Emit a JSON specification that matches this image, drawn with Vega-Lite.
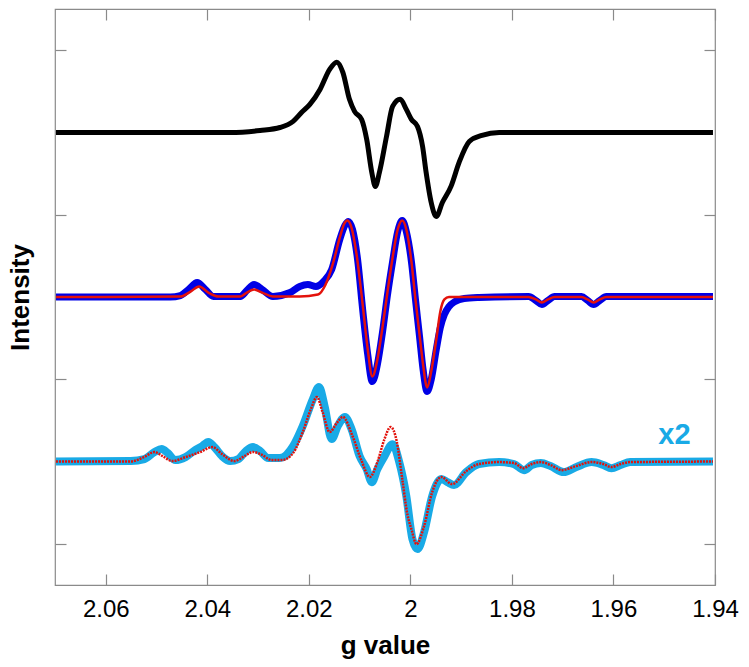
{
  "$schema": "https://vega.github.io/schema/vega-lite/v6.json",
  "width": 660,
  "height": 576,
  "autosize": {"type": "none"},
  "padding": {"left": 55, "top": 9, "right": 34, "bottom": 82},
  "background": "white",
  "config": {
    "view": {"stroke": "#8a8a8a", "strokeWidth": 1.2},
    "font": "Liberation Sans",
    "axis": {
      "domain": false,
      "grid": false,
      "tickColor": "#8a8a8a",
      "tickWidth": 1.2,
      "tickSize": -11,
      "labelFont": "Liberation Sans",
      "labelFontSize": 24,
      "labelColor": "black",
      "titleFont": "Liberation Sans",
      "titleFontSize": 26,
      "titleFontWeight": "bold",
      "titleColor": "black"
    }
  },
  "datasets": {
    "black": [
      {"g": 2.0698, "v": 2.0}, {"g": 2.0512, "v": 2.0}, {"g": 2.0355, "v": 2.0},
      {"g": 2.0296, "v": 2.012}, {"g": 2.0257, "v": 2.03}, {"g": 2.0231, "v": 2.067},
      {"g": 2.0214, "v": 2.122}, {"g": 2.0198, "v": 2.17}, {"g": 2.0178, "v": 2.261},
      {"g": 2.0159, "v": 2.383}, {"g": 2.0145, "v": 2.427}, {"g": 2.0133, "v": 2.365},
      {"g": 2.012, "v": 2.201}, {"g": 2.011, "v": 2.128}, {"g": 2.0096, "v": 2.079},
      {"g": 2.0086, "v": 1.957}, {"g": 2.0076, "v": 1.757}, {"g": 2.0069, "v": 1.672},
      {"g": 2.0061, "v": 1.757}, {"g": 2.0047, "v": 1.976}, {"g": 2.0035, "v": 2.158},
      {"g": 2.002, "v": 2.201}, {"g": 2.0008, "v": 2.14}, {"g": 1.9998, "v": 2.079},
      {"g": 1.9986, "v": 2.036}, {"g": 1.9976, "v": 1.915}, {"g": 1.9969, "v": 1.757},
      {"g": 1.9959, "v": 1.574}, {"g": 1.9949, "v": 1.489}, {"g": 1.9937, "v": 1.574},
      {"g": 1.992, "v": 1.672}, {"g": 1.9904, "v": 1.818}, {"g": 1.9884, "v": 1.945},
      {"g": 1.9859, "v": 1.982}, {"g": 1.9825, "v": 2.0}, {"g": 1.9629, "v": 2.0},
      {"g": 1.9404, "v": 2.0}
    ],
    "blue": [
      {"g": 2.0698, "v": 1.0}, {"g": 2.0473, "v": 1.0}, {"g": 2.0453, "v": 1.009},
      {"g": 2.0437, "v": 1.046}, {"g": 2.042, "v": 1.088}, {"g": 2.0404, "v": 1.046},
      {"g": 2.0388, "v": 1.003}, {"g": 2.0335, "v": 1.003}, {"g": 2.0322, "v": 1.04},
      {"g": 2.0308, "v": 1.076}, {"g": 2.0292, "v": 1.046}, {"g": 2.0271, "v": 1.003},
      {"g": 2.0237, "v": 1.027}, {"g": 2.0218, "v": 1.064}, {"g": 2.0202, "v": 1.076},
      {"g": 2.0186, "v": 1.064}, {"g": 2.0171, "v": 1.094}, {"g": 2.0155, "v": 1.167},
      {"g": 2.0139, "v": 1.35}, {"g": 2.0129, "v": 1.435}, {"g": 2.0122, "v": 1.459},
      {"g": 2.0114, "v": 1.41}, {"g": 2.0104, "v": 1.228}, {"g": 2.0094, "v": 0.924},
      {"g": 2.0084, "v": 0.65}, {"g": 2.0075, "v": 0.486}, {"g": 2.0065, "v": 0.59},
      {"g": 2.0055, "v": 0.784}, {"g": 2.0045, "v": 1.015}, {"g": 2.0035, "v": 1.216},
      {"g": 2.0025, "v": 1.398}, {"g": 2.0016, "v": 1.465}, {"g": 2.0008, "v": 1.398},
      {"g": 1.9998, "v": 1.216}, {"g": 1.999, "v": 0.985}, {"g": 1.9982, "v": 0.76},
      {"g": 1.9975, "v": 0.559}, {"g": 1.9967, "v": 0.426}, {"g": 1.9959, "v": 0.498},
      {"g": 1.9949, "v": 0.681}, {"g": 1.9941, "v": 0.815}, {"g": 1.9933, "v": 0.894},
      {"g": 1.9924, "v": 0.942}, {"g": 1.9912, "v": 0.973}, {"g": 1.9894, "v": 0.991},
      {"g": 1.9865, "v": 0.997}, {"g": 1.9767, "v": 1.003}, {"g": 1.9753, "v": 0.979},
      {"g": 1.9741, "v": 0.954}, {"g": 1.9729, "v": 0.979}, {"g": 1.9716, "v": 1.003},
      {"g": 1.9663, "v": 1.003}, {"g": 1.9651, "v": 0.979}, {"g": 1.9639, "v": 0.954},
      {"g": 1.9627, "v": 0.979}, {"g": 1.9614, "v": 1.003}, {"g": 1.9404, "v": 1.003}
    ],
    "fit2": [
      {"g": 2.0698, "v": 1.0}, {"g": 2.0453, "v": 1.003}, {"g": 2.0433, "v": 1.033},
      {"g": 2.0416, "v": 1.064}, {"g": 2.0398, "v": 1.027}, {"g": 2.0378, "v": 1.003},
      {"g": 2.0335, "v": 1.003}, {"g": 2.0322, "v": 1.027}, {"g": 2.0308, "v": 1.046},
      {"g": 2.0292, "v": 1.027}, {"g": 2.0271, "v": 1.003}, {"g": 2.0218, "v": 1.003},
      {"g": 2.0182, "v": 1.015}, {"g": 2.0167, "v": 1.076}, {"g": 2.0153, "v": 1.198},
      {"g": 2.0139, "v": 1.362}, {"g": 2.0131, "v": 1.441}, {"g": 2.0124, "v": 1.465},
      {"g": 2.0116, "v": 1.422}, {"g": 2.0106, "v": 1.258}, {"g": 2.0094, "v": 0.954},
      {"g": 2.0084, "v": 0.681}, {"g": 2.0075, "v": 0.517}, {"g": 2.0065, "v": 0.62},
      {"g": 2.0055, "v": 0.815}, {"g": 2.0045, "v": 1.033}, {"g": 2.0035, "v": 1.24},
      {"g": 2.0025, "v": 1.41}, {"g": 2.0016, "v": 1.465}, {"g": 2.0008, "v": 1.41},
      {"g": 1.9998, "v": 1.216}, {"g": 1.999, "v": 0.985}, {"g": 1.9982, "v": 0.772},
      {"g": 1.9975, "v": 0.59}, {"g": 1.9967, "v": 0.45}, {"g": 1.9959, "v": 0.547},
      {"g": 1.9949, "v": 0.742}, {"g": 1.9941, "v": 0.912}, {"g": 1.9933, "v": 0.985},
      {"g": 1.9924, "v": 1.0}, {"g": 1.9767, "v": 1.0}, {"g": 1.9753, "v": 0.985},
      {"g": 1.9741, "v": 0.967}, {"g": 1.9729, "v": 0.985}, {"g": 1.9716, "v": 1.0},
      {"g": 1.9663, "v": 1.0}, {"g": 1.9651, "v": 0.985}, {"g": 1.9639, "v": 0.967},
      {"g": 1.9627, "v": 0.985}, {"g": 1.9614, "v": 1.0}, {"g": 1.9404, "v": 1.0}
    ],
    "cyan": [
      {"g": 2.0698, "v": 0.0}, {"g": 2.0551, "v": 0.003}, {"g": 2.0524, "v": 0.015},
      {"g": 2.0504, "v": 0.058}, {"g": 2.049, "v": 0.076}, {"g": 2.0478, "v": 0.052},
      {"g": 2.0463, "v": 0.009}, {"g": 2.0443, "v": 0.027}, {"g": 2.0424, "v": 0.07},
      {"g": 2.041, "v": 0.094}, {"g": 2.0398, "v": 0.119}, {"g": 2.0386, "v": 0.088},
      {"g": 2.0371, "v": 0.033}, {"g": 2.0355, "v": 0.003}, {"g": 2.0339, "v": 0.015},
      {"g": 2.0324, "v": 0.064}, {"g": 2.031, "v": 0.088}, {"g": 2.0296, "v": 0.064},
      {"g": 2.028, "v": 0.021}, {"g": 2.0257, "v": 0.021}, {"g": 2.0231, "v": 0.094},
      {"g": 2.0212, "v": 0.216}, {"g": 2.0192, "v": 0.38}, {"g": 2.018, "v": 0.453},
      {"g": 2.0169, "v": 0.337}, {"g": 2.0155, "v": 0.137}, {"g": 2.0143, "v": 0.216},
      {"g": 2.0129, "v": 0.271}, {"g": 2.0116, "v": 0.198}, {"g": 2.01, "v": 0.033},
      {"g": 2.0086, "v": -0.046}, {"g": 2.0076, "v": -0.125}, {"g": 2.0065, "v": -0.046},
      {"g": 2.0051, "v": 0.033}, {"g": 2.0035, "v": 0.106}, {"g": 2.0022, "v": -0.003},
      {"g": 2.0008, "v": -0.21}, {"g": 1.9996, "v": -0.471}, {"g": 1.9986, "v": -0.532},
      {"g": 1.9973, "v": -0.429}, {"g": 1.9957, "v": -0.21}, {"g": 1.9939, "v": -0.106},
      {"g": 1.9927, "v": -0.125}, {"g": 1.9914, "v": -0.143}, {"g": 1.989, "v": -0.064},
      {"g": 1.9865, "v": -0.015}, {"g": 1.9825, "v": -0.003}, {"g": 1.9796, "v": -0.015},
      {"g": 1.9776, "v": -0.052}, {"g": 1.9761, "v": -0.021}, {"g": 1.9743, "v": -0.009},
      {"g": 1.9724, "v": -0.027}, {"g": 1.9698, "v": -0.064}, {"g": 1.9673, "v": -0.033},
      {"g": 1.9643, "v": -0.003}, {"g": 1.962, "v": -0.021}, {"g": 1.9604, "v": -0.04},
      {"g": 1.9586, "v": -0.021}, {"g": 1.9567, "v": -0.003}, {"g": 1.9404, "v": 0.0}
    ],
    "fit3": [
      {"g": 2.0698, "v": 0.0}, {"g": 2.0551, "v": 0.0}, {"g": 2.0525, "v": 0.027},
      {"g": 2.0504, "v": 0.058}, {"g": 2.0488, "v": 0.033}, {"g": 2.0469, "v": 0.003},
      {"g": 2.0443, "v": 0.027}, {"g": 2.0414, "v": 0.058}, {"g": 2.039, "v": 0.088},
      {"g": 2.0371, "v": 0.046}, {"g": 2.0347, "v": 0.003}, {"g": 2.0327, "v": 0.033},
      {"g": 2.031, "v": 0.058}, {"g": 2.0292, "v": 0.04}, {"g": 2.0273, "v": 0.009},
      {"g": 2.0253, "v": 0.009}, {"g": 2.0231, "v": 0.052}, {"g": 2.0212, "v": 0.179},
      {"g": 2.0196, "v": 0.319}, {"g": 2.0184, "v": 0.392}, {"g": 2.0173, "v": 0.301},
      {"g": 2.0159, "v": 0.179}, {"g": 2.0145, "v": 0.234}, {"g": 2.0133, "v": 0.271},
      {"g": 2.0114, "v": 0.155}, {"g": 2.0096, "v": 0.003}, {"g": 2.008, "v": -0.094},
      {"g": 2.0065, "v": -0.003}, {"g": 2.0051, "v": 0.137}, {"g": 2.0039, "v": 0.21},
      {"g": 2.0027, "v": 0.125}, {"g": 2.0016, "v": -0.106}, {"g": 2.0006, "v": -0.319},
      {"g": 1.9998, "v": -0.41}, {"g": 1.9988, "v": -0.502}, {"g": 1.9973, "v": -0.392},
      {"g": 1.9957, "v": -0.185}, {"g": 1.9939, "v": -0.094}, {"g": 1.9918, "v": -0.137},
      {"g": 1.989, "v": -0.058}, {"g": 1.9865, "v": -0.015}, {"g": 1.9825, "v": -0.003},
      {"g": 1.9796, "v": -0.009}, {"g": 1.9778, "v": -0.04}, {"g": 1.9761, "v": -0.015},
      {"g": 1.9743, "v": -0.003}, {"g": 1.9724, "v": -0.021}, {"g": 1.9702, "v": -0.052},
      {"g": 1.9673, "v": -0.027}, {"g": 1.9643, "v": -0.003}, {"g": 1.962, "v": -0.015},
      {"g": 1.9604, "v": -0.033}, {"g": 1.9586, "v": -0.015}, {"g": 1.9567, "v": -0.003},
      {"g": 1.9404, "v": 0.0}
    ],
    "label": [{"g": 1.948, "v": 0.164, "text": "x2"}]
  },
  "layer": [
    {
      "data": {"name": "black"},
      "mark": {"type": "line", "color": "black", "strokeWidth": 5, "interpolate": "monotone"},
      "encoding": {
        "x": {"field": "g", "type": "quantitative",
              "scale": {"domain": [2.07, 1.94], "nice": false, "zero": false},
              "axis": {"orient": "bottom", "values": [2.06, 2.04, 2.02, 2.0, 1.98, 1.96, 1.94],
                       "format": "~g", "labelPadding": 23, "title": "g value", "titlePadding": 11, "labelFlush": false}},
        "y": {"field": "v", "type": "quantitative",
              "scale": {"domain": [-0.75, 2.75], "nice": false, "zero": false},
              "axis": {"orient": "left", "values": [-0.5, 0.5, 1.5, 2.5], "labels": false,
                       "title": "Intensity", "titlePadding": 21}},
        "order": {"field": "g", "sort": "descending"}
      }
    },
    {
      "data": {"name": "blue"},
      "mark": {"type": "line", "color": "#0000e6", "strokeWidth": 7, "interpolate": "monotone"},
      "encoding": {
        "x": {"field": "g", "type": "quantitative",
              "axis": {"orient": "top", "values": [2.06, 2.04, 2.02, 2.0, 1.98, 1.96, 1.94],
                       "labels": false, "title": null}},
        "y": {"field": "v", "type": "quantitative",
              "axis": {"orient": "right", "values": [-0.5, 0.5, 1.5, 2.5], "labels": false, "title": null}},
        "order": {"field": "g", "sort": "descending"}
      }
    },
    {
      "data": {"name": "fit2"},
      "mark": {"type": "line", "color": "#e3120b", "strokeWidth": 2.5, "interpolate": "monotone"},
      "encoding": {
        "x": {"field": "g", "type": "quantitative", "axis": null},
        "y": {"field": "v", "type": "quantitative", "axis": null},
        "order": {"field": "g", "sort": "descending"}
      }
    },
    {
      "data": {"name": "cyan"},
      "mark": {"type": "line", "color": "#19aae6", "strokeWidth": 8, "interpolate": "monotone"},
      "encoding": {
        "x": {"field": "g", "type": "quantitative", "axis": null},
        "y": {"field": "v", "type": "quantitative", "axis": null},
        "order": {"field": "g", "sort": "descending"}
      }
    },
    {
      "data": {"name": "fit3"},
      "mark": {"type": "line", "color": "#e3120b", "strokeWidth": 2.5, "strokeDash": [2, 1], "interpolate": "monotone"},
      "encoding": {
        "x": {"field": "g", "type": "quantitative", "axis": null},
        "y": {"field": "v", "type": "quantitative", "axis": null},
        "order": {"field": "g", "sort": "descending"}
      }
    },
    {
      "data": {"name": "label"},
      "mark": {"type": "text", "color": "#19aae6", "fontSize": 29, "fontWeight": "bold", "font": "Liberation Sans", "baseline": "middle", "align": "center"},
      "encoding": {
        "x": {"field": "g", "type": "quantitative", "axis": null},
        "y": {"field": "v", "type": "quantitative", "axis": null},
        "text": {"field": "text"}
      }
    }
  ],
  "resolve": {"axis": {"x": "independent", "y": "independent"}}
}
